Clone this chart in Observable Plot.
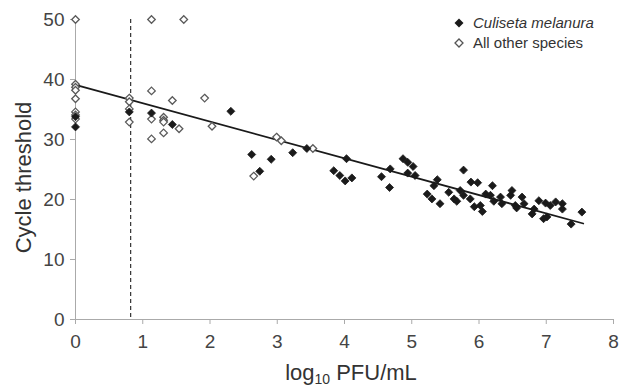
<!DOCTYPE html>
<html>
<head>
<meta charset="utf-8">
<script src="https://cdn.jsdelivr.net/npm/d3@7"></script>
<script src="https://cdn.jsdelivr.net/npm/@observablehq/plot@0.6"></script>
<style>
  body { margin: 0; background: #fff; }
  #wrap { position: relative; width: 622px; height: 387px; font-family: "Liberation Sans", Arial, sans-serif; }
  #legend { position: absolute; left: 453px; top: 13px; font-size: 15px; color: #333; line-height: 20px; }
  #legend div { display: flex; align-items: center; }
  #legend svg { margin-right: 8px; }
</style>
</head>
<body>
<div id="wrap"><div id="legend"></div></div>
<script>
// Culiseta melanura (filled diamonds)
const culisetaX = [0, 0, 0.8, 1.13, 1.44, 2.31, 2.62, 2.74, 2.91, 3.23, 3.44, 3.84, 3.93, 4.01, 4.03, 4.11,
  4.55, 4.67, 4.68, 4.87, 4.94, 5.02, 4.94, 5.05, 5.23, 5.30, 5.33, 5.38, 5.42, 5.55, 5.63, 5.67, 5.72,
  5.77, 5.77, 5.87, 5.88, 5.98, 5.93, 6.02, 6.05, 6.10, 6.17, 6.20, 6.22, 6.32, 6.34, 6.47, 6.49, 6.54,
  6.56, 6.64, 6.67, 6.79, 6.82, 6.89, 6.99, 6.96, 7.01, 7.06, 7.14, 7.24, 7.24, 7.37, 7.53];
const culisetaY = [32.1, 33.8, 34.6, 34.4, 32.5, 34.7, 27.5, 24.7, 26.7, 27.8, 28.5, 24.8, 24.0, 23.1, 26.8, 23.6,
  23.8, 22.0, 25.1, 26.8, 26.2, 25.5, 24.4, 24.0, 20.9, 20.1, 22.3, 23.3, 19.3, 21.2, 20.1, 19.7, 21.5,
  20.7, 24.9, 20.1, 22.9, 22.8, 18.8, 19.0, 18.0, 20.9, 20.7, 22.3, 19.7, 20.4, 19.3, 20.7, 21.5, 19.0,
  18.6, 20.4, 19.3, 17.6, 18.4, 19.8, 19.4, 16.8, 17.1, 19.0, 19.6, 19.3, 18.4, 15.9, 17.9];
// All other species (open diamonds)
const otherX = [0, 0, 0, 0, 0, 0, 0, 0, 0.8, 0.8, 0.8, 0.8, 1.13, 1.13, 1.13, 1.13, 1.31, 1.31, 1.31, 1.31,
  1.44, 1.54, 1.61, 1.92, 2.03, 2.65, 2.99, 3.06, 3.53];
const otherY = [50, 39.2, 38.7, 38.2, 36.8, 34.6, 34.1, 33.4, 36.9, 36.3, 35.1, 32.9, 50, 38.1, 33.4, 30.1, 33.7, 33.2, 32.9, 31.1,
  36.5, 31.8, 50, 36.9, 32.2, 23.9, 30.4, 29.8, 28.5];
// Fitted regression line end points
const fitX = [0, 7.55];
const fitY = [39.1, 16.0];
// Detection limit (dashed)
const limitX = [0.82];
const xTicks = [0, 1, 2, 3, 4, 5, 6, 7, 8];
const yTicks = [0, 10, 20, 30, 40, 50];
const seriesNames = ["Culiseta melanura", "All other species"];

const culiseta = culisetaX.map((x, i) => ({x, y: culisetaY[i]}));
const other = otherX.map((x, i) => ({x, y: otherY[i]}));
const fit = fitX.map((x, i) => ({x, y: fitY[i]}));

const chart = Plot.plot({
  width: 622,
  height: 387,
  marginLeft: 75,
  marginRight: 9,
  marginTop: 19,
  marginBottom: 68,
  style: {fontFamily: "Liberation Sans, Arial, sans-serif", background: "#fff"},
  x: {domain: [0, 8]},
  y: {domain: [0, 50]},
  marks: [
    Plot.axisX(xTicks, {tickSize: 5, tickPadding: 10, stroke: "#aaa", fill: "#444", fontSize: 19, label: null}),
    Plot.axisY(yTicks, {tickSize: 5, tickPadding: 6, stroke: "#aaa", fill: "#444", fontSize: 19, label: null}),
    Plot.ruleY([0], {stroke: "#aaa"}),
    Plot.ruleX([0], {stroke: "#aaa"}),
    Plot.ruleX(limitX, {stroke: "#333", strokeDasharray: "4,3", strokeWidth: 1.2}),
    Plot.line(fit, {x: "x", y: "y", stroke: "#1a1a1a", strokeWidth: 1.8}),
    Plot.dot(other, {x: "x", y: "y", symbol: "diamond2", r: 3.4, fill: "#fff", stroke: "#5a5a5a", strokeWidth: 1.3}),
    Plot.dot(culiseta, {x: "x", y: "y", symbol: "diamond2", r: 3.6, fill: "#1a1a1a", stroke: "#1a1a1a", strokeWidth: 0.8}),
    Plot.text(["Cycle threshold"], {frameAnchor: "left", textAnchor: "middle", rotate: -90, dx: -52, dy: 8, fontSize: 22, fill: "#333"})
  ]
});

const svg = d3.select(chart);
const xl = svg.append("text")
  .attr("x", 351).attr("y", 380)
  .attr("text-anchor", "middle")
  .attr("font-size", 22)
  .attr("fill", "#333")
  .attr("font-family", "Liberation Sans, Arial, sans-serif");
xl.append("tspan").text("log");
xl.append("tspan").attr("font-size", 14).attr("dy", 4).text("10");
xl.append("tspan").attr("dy", -4).text(" PFU/mL");

const wrap = document.getElementById("wrap");
wrap.insertBefore(chart, wrap.firstChild);

const legend = document.getElementById("legend");
legend.innerHTML = `
  <div><svg width="12" height="12" viewBox="-6 -6 12 12"><path d="M0,-4.5L4.5,0L0,4.5L-4.5,0Z" fill="#1a1a1a"/></svg><i>${seriesNames[0]}</i></div>
  <div><svg width="12" height="12" viewBox="-6 -6 12 12"><path d="M0,-4L4,0L0,4L-4,0Z" fill="#fff" stroke="#555" stroke-width="1.3"/></svg>${seriesNames[1]}</div>`;
</script>
</body>
</html>
